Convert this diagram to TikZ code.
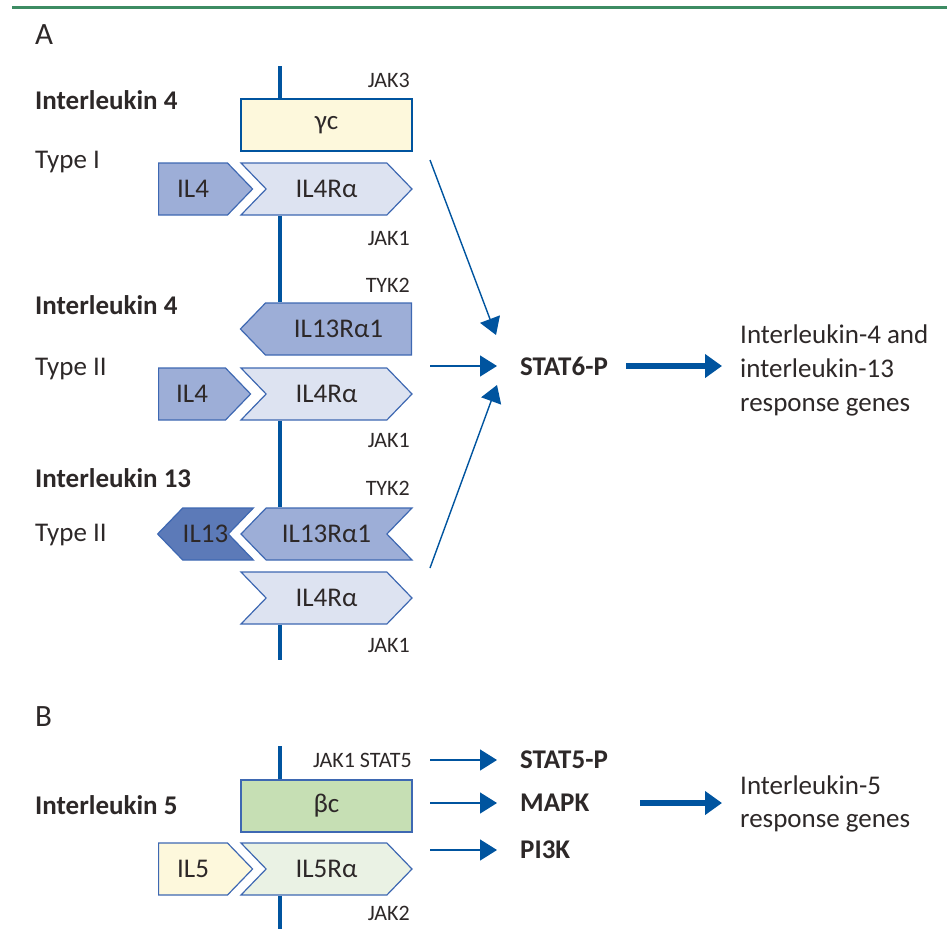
\documentclass[tikz,border=0pt]{standalone}
\usepackage{fontspec}
\setmainfont{Carlito}
\definecolor{memblue}{RGB}{0,84,159}
\definecolor{boxline}{RGB}{62,104,178}
\definecolor{rulegreen}{RGB}{61,140,99}
\definecolor{ilfour}{RGB}{157,174,215}
\definecolor{ilthirteen}{RGB}{92,122,184}
\definecolor{ralpha}{RGB}{221,227,241}
\definecolor{gammafill}{RGB}{253,248,220}
\definecolor{betafill}{RGB}{198,223,180}
\definecolor{fivealpha}{RGB}{234,242,228}
\definecolor{txt}{RGB}{45,40,40}
\usetikzlibrary{calc, positioning, arrows.meta, shapes.symbols}

\newcommand{\boxfont}{\fontsize{27}{30}\selectfont}
\newcommand{\lblfont}{\fontsize{27}{34}\selectfont}
\newcommand{\tagfont}{\fontsize{22}{24}\selectfont}

\begin{document}
\begin{tikzpicture}[x=1pt, y=-1pt,
  every node/.style={text=txt},
  rec/.style={draw=boxline, line width=1.2pt, minimum width=171pt,
    minimum height=52pt, inner sep=0pt, font=\boxfont},
  sig/.style={rec, shape=signal, signal pointer angle=92},
  lbl/.style={anchor=west, font=\lblfont, inner sep=0pt},
  tag/.style={anchor=east, font=\tagfont, inner sep=0pt},
  membrane/.style={memblue, line width=4.5pt},
  thin/.style={-{Triangle[length=17pt,width=21pt]}, memblue, line width=1.4pt},
  fat/.style={-{Triangle[length=17pt,width=23pt]}, memblue, line width=6pt},
]
\useasboundingbox (0,0) rectangle (947,948);
\draw[rulegreen, line width=3pt] (12,7) -- (947,7);
\coordinate (mem) at (280,0);

% Panel A
\node[lbl, font=\fontsize{31}{34}\selectfont] (pa) at (35,35) {A};
\node[lbl, font=\lblfont\bfseries] (n1) at (35,100) {Interleukin 4};
\node[lbl] (t1) at (35,162) {Type I};
\node[lbl, font=\lblfont\bfseries] (n2) at (35,305) {Interleukin 4};
\node[lbl] (t2) at (35,369) {Type II};
\node[lbl, font=\lblfont\bfseries] (n3) at (35,478) {Interleukin 13};
\node[lbl] (t3) at (35,535) {Type II};

% receptors, type I
\node[rec, fill=gammafill, draw=memblue] (gc) at (326.5,125) {γc};
\node[sig, fill=ralpha, signal to=east, signal from=west] (ra1) at (326.5,189) {IL4Rα};
\node[sig, fill=ilfour, minimum width=94pt, signal to=east, anchor=west] (il4a) at (158,189) {IL4};

% receptors, type II (IL-4)
\node[sig, fill=ilfour, signal to=west, anchor=east] (r13a) at (412,329) {IL13Rα1};
\node[sig, fill=ralpha, signal to=east, signal from=west] (ra2) at (326.5,394) {IL4Rα};
\node[sig, fill=ilfour, minimum width=92pt, signal to=east, anchor=west] (il4b) at (158,394) {IL4};

% receptors, type II (IL-13)
\node[sig, fill=ilfour, signal to=west, signal from=east] (r13b) at (326.5,534) {IL13Rα1};
\node[sig, fill=ilthirteen, minimum width=95pt, signal to=west, signal from=east] (il13) at (205.5,534) {IL13};
\node[sig, fill=ralpha, signal to=east, signal from=west] (ra3) at (326.5,598) {IL4Rα};

% membrane pieces
\draw[membrane] (gc.north -| mem) -- ++(0,-32);
\draw[membrane] (ra1.south -| mem) -- (r13a.north -| mem);
\draw[membrane] (ra2.south -| mem) -- (r13b.north -| mem);
\draw[membrane] (ra3.south -| mem) -- ++(0,35);

% kinases
\node[tag] (k1) at (410,80) {JAK3};
\node[tag] (k2) at (410,238) {JAK1};
\node[tag] (k3) at (410,285) {TYK2};
\node[tag] (k4) at (410,440) {JAK1};
\node[tag] (k5) at (410,488) {TYK2};
\node[tag] (k6) at (410,645) {JAK1};

% signalling
\node[lbl, font=\lblfont\bfseries] (stat6) at (520,366) {STAT6-P};
\node[lbl, align=left] (g413) at (740,370) {Interleukin-4 and\\interleukin-13\\response genes};
\coordinate (s1) at (430,160);
\coordinate (s2) at (430,366);
\coordinate (s3) at (430,568);
\draw[thin] (s1) -- ($(stat6.west)+(-24,-31)$);
\draw[thin] (s2) -- ($(stat6.west)+(-23,0)$);
\draw[thin] (s3) -- ($(stat6.west)+(-23,19)$);
\draw[fat] ([xshift=18pt]stat6.east) -- ([xshift=-18pt]g413.west |- stat6.east);

% Panel B
\node[lbl, font=\fontsize{31}{34}\selectfont] (pb) at (35,717) {B};
\node[lbl, font=\lblfont\bfseries] (n5) at (35,805) {Interleukin 5};
\node[rec, fill=betafill] (bc) at (326.5,806) {βc};
\node[sig, fill=fivealpha, signal to=east, signal from=west] (ra5) at (326.5,869) {IL5Rα};
\node[sig, fill=gammafill, minimum width=94pt, signal to=east, anchor=west] (il5) at (158,869) {IL5};
\draw[membrane] (bc.north -| mem) -- ++(0,-33);
\draw[membrane] (ra5.south -| mem) -- ++(0,33);
\node[tag] (js5) at (412,760) {JAK1 STAT5};
\node[tag] (k7) at (410,913) {JAK2};

\node[lbl, font=\lblfont\bfseries] (stat5) at (520,760) {STAT5-P};
\node[lbl, font=\lblfont\bfseries] (mapk) at (520,803) {MAPK};
\node[lbl, font=\lblfont\bfseries] (pi3k) at (520,850) {PI3K};
\node[lbl, align=left, font=\fontsize{27}{33}\selectfont] (g5) at (740,804) {Interleukin-5\\response genes};
\coordinate (b2) at (430,803);
\coordinate (b3) at (430,850);
\draw[thin] ([xshift=18pt]js5.east) -- ([xshift=-23pt]stat5.west);
\draw[thin] (b2) -- ([xshift=-23pt]mapk.west);
\draw[thin] (b3) -- ([xshift=-23pt]pi3k.west);
\draw[fat] (640,803) -- ([xshift=-18pt]g5.west |- mapk.east);
\end{tikzpicture}
\end{document}
